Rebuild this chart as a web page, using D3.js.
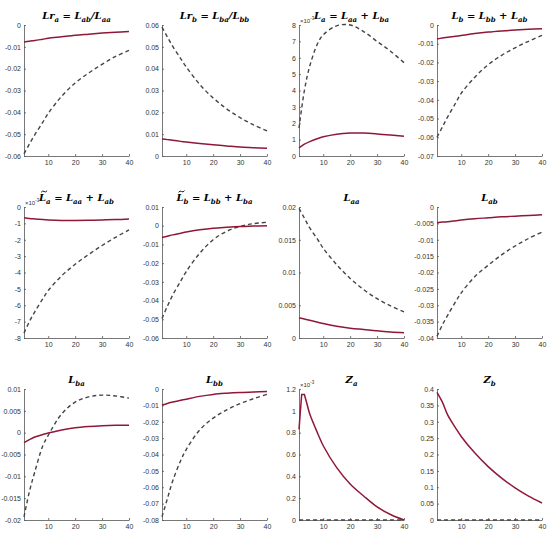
<!DOCTYPE html>
<html>
<head>
<meta charset="utf-8">
<script src="https://cdn.jsdelivr.net/npm/d3@7"></script>
<style>
  body { margin: 0; background: #fff; }
  svg { display: block; }
  .tick text { font-family: "Liberation Sans", Arial, sans-serif; font-size: 7px; fill: #333; }
  .tick line, .domain { stroke: #555; stroke-width: 0.8; }
</style>
</head>
<body>
<div id="root"></div>
<script>
var xs = [1, 3, 5, 8, 10, 15, 20, 25, 30, 35, 40];

// panel titles: [text, isSub]; tilde marks L with a tilde accent
var titles = [
  [["Lr", 0], ["a", 1], [" = L", 0], ["ab", 1], ["/L", 0], ["aa", 1]],
  [["Lr", 0], ["b", 1], [" = L", 0], ["ba", 1], ["/L", 0], ["bb", 1]],
  [["L", 0], ["a", 1], [" = L", 0], ["aa", 1], [" + L", 0], ["ba", 1]],
  [["L", 0], ["b", 1], [" = L", 0], ["bb", 1], [" + L", 0], ["ab", 1]],
  [["L", 0], ["a", 1], [" = L", 0], ["aa", 1], [" + L", 0], ["ab", 1]],
  [["L", 0], ["b", 1], [" = L", 0], ["bb", 1], [" + L", 0], ["ba", 1]],
  [["L", 0], ["aa", 1]],
  [["L", 0], ["ab", 1]],
  [["L", 0], ["ba", 1]],
  [["L", 0], ["bb", 1]],
  [["Z", 0], ["a", 1]],
  [["Z", 0], ["b", 1]]
];
var tilde = [false, false, false, false, true, true, false, false, false, false, false, false];

// y domains and ticks
var yDomains = [
  [-0.06, 0], [0, 0.06], [0, 8], [-0.07, 0],
  [-8, 0], [-0.06, 0.01], [0, 0.02], [-0.04, 0],
  [-0.02, 0.01], [-0.08, 0], [0, 1.2], [0, 0.4]
];
var yTicks = [
  [-0.06, -0.05, -0.04, -0.03, -0.02, -0.01, 0],
  [0, 0.01, 0.02, 0.03, 0.04, 0.05, 0.06],
  [0, 1, 2, 3, 4, 5, 6, 7, 8],
  [-0.07, -0.06, -0.05, -0.04, -0.03, -0.02, -0.01, 0],
  [-8, -7, -6, -5, -4, -3, -2, -1, 0],
  [-0.06, -0.05, -0.04, -0.03, -0.02, -0.01, 0, 0.01],
  [0, 0.005, 0.01, 0.015, 0.02],
  [-0.04, -0.035, -0.03, -0.025, -0.02, -0.015, -0.01, -0.005, 0],
  [-0.02, -0.015, -0.01, -0.005, 0, 0.005, 0.01],
  [-0.08, -0.07, -0.06, -0.05, -0.04, -0.03, -0.02, -0.01, 0],
  [0, 0.2, 0.4, 0.6, 0.8, 1, 1.2],
  [0, 0.05, 0.1, 0.15, 0.2, 0.25, 0.3, 0.35, 0.4]
];
var scaled = [false, false, true, false, true, false, false, false, false, false, true, false]; // x10^-3
var xTicks = [10, 20, 30, 40];

// solid series (values at xs)
var solid = [
  [-0.0078, -0.0074, -0.0071, -0.0065, -0.0061, -0.0054, -0.0047, -0.0042, -0.0037, -0.0033, -0.0030],
  [0.0078, 0.0075, 0.0072, 0.0067, 0.0064, 0.0057, 0.0051, 0.0046, 0.0041, 0.0038, 0.0035],
  [0.50, 0.72, 0.88, 1.07, 1.17, 1.33, 1.40, 1.40, 1.35, 1.28, 1.20],
  [-0.0075, -0.0070, -0.0066, -0.0060, -0.0056, -0.0046, -0.0038, -0.0032, -0.0027, -0.0023, -0.0020],
  [-0.66, -0.70, -0.73, -0.77, -0.79, -0.82, -0.82, -0.81, -0.79, -0.77, -0.74],
  [-0.0063, -0.0056, -0.0049, -0.0040, -0.0034, -0.0022, -0.0013, -0.0008, -0.0004, -0.0002, 0.0000],
  [0.0031, 0.0029, 0.0027, 0.0024, 0.0022, 0.0018, 0.0015, 0.0013, 0.0011, 0.0009, 0.0008],
  [-0.0048, -0.0046, -0.0045, -0.0042, -0.0040, -0.0036, -0.0033, -0.0030, -0.0028, -0.0026, -0.0024],
  [-0.0023, -0.0016, -0.0010, -0.0004, -0.0001, 0.0006, 0.0011, 0.0014, 0.0016, 0.0017, 0.0017],
  [-0.0098, -0.0088, -0.0080, -0.0069, -0.0062, -0.0045, -0.0033, -0.0026, -0.0021, -0.0018, -0.0016],
  [0.83, 1.15, 0.97, 0.79, 0.68, 0.48, 0.33, 0.22, 0.12, 0.05, 0.00],
  [0.390, 0.360, 0.320, 0.280, 0.255, 0.205, 0.163, 0.128, 0.098, 0.073, 0.052]
];
// extra solid points for Z_a peak (x = 2..4)
var zaPeakX = [2, 3, 4];
var zaPeakY = [1.15, 1.15, 1.06];

// dashed series (values at xs)
var dashed = [
  [-0.0590, -0.0545, -0.0503, -0.0445, -0.0405, -0.0326, -0.0266, -0.0220, -0.0180, -0.0144, -0.0116],
  [0.0590, 0.0545, 0.0502, 0.0445, 0.0408, 0.0328, 0.0266, 0.0216, 0.0176, 0.0143, 0.0115],
  [1.7, 4.0, 5.5, 6.9, 7.4, 7.95, 8.0, 7.6, 7.0, 6.4, 5.7],
  [-0.0600, -0.0545, -0.0490, -0.0415, -0.0365, -0.0280, -0.0212, -0.0162, -0.0122, -0.0087, -0.0055],
  [-7.7, -7.0, -6.4, -5.6, -5.1, -4.2, -3.5, -2.9, -2.35, -1.85, -1.4],
  [-0.0496, -0.0430, -0.0370, -0.0295, -0.0245, -0.0147, -0.0075, -0.0030, -0.0004, 0.0011, 0.0018],
  [0.0198, 0.0183, 0.0168, 0.0150, 0.0137, 0.0112, 0.0091, 0.0074, 0.0060, 0.0049, 0.0040],
  [-0.0395, -0.0360, -0.0330, -0.0288, -0.0262, -0.0213, -0.0178, -0.0146, -0.0119, -0.0096, -0.0077],
  [-0.0193, -0.0135, -0.0090, -0.0030, -0.0006, 0.0043, 0.0070, 0.0082, 0.0086, 0.0084, 0.0079],
  [-0.0780, -0.0670, -0.0560, -0.0435, -0.0370, -0.0250, -0.0178, -0.0128, -0.0089, -0.0059, -0.0033],
  [0, 0, 0, 0, 0, 0, 0, 0, 0, 0, 0],
  [0, 0, 0, 0, 0, 0, 0, 0, 0, 0, 0]
];

var w = 550, h = 538;
var colLeft = [24, 162, 299, 437];
var rowTop = [25, 207, 389];
var pw = 105, ph = 131;

var svg = d3.select("#root").append("svg").attr("width", w).attr("height", h);

titles.forEach(function(t, i) {
  var x0 = colLeft[i % 4], y0 = rowTop[Math.floor(i / 4)];
  var g = svg.append("g").attr("transform", "translate(" + x0 + "," + y0 + ")");

  var x = d3.scaleLinear().domain([1, 40]).range([0, pw]);
  var y = d3.scaleLinear().domain(yDomains[i]).range([ph, 0]);

  var fmt = function(d) { return d3.format("~g")(+d.toFixed(4)).replace("\u2212", "-"); };

  g.append("g").attr("transform", "translate(0," + ph + ")")
    .call(d3.axisBottom(x).tickValues(xTicks).tickSize(-2).tickSizeOuter(0).tickPadding(4));
  g.append("g")
    .call(d3.axisLeft(y).tickValues(yTicks[i]).tickSize(-2).tickSizeOuter(0).tickPadding(3).tickFormat(fmt));

  if (scaled[i]) {
    var s = g.append("text").attr("x", 1).attr("y", -2)
      .style("font-family", "Liberation Sans, Arial, sans-serif").style("font-size", "6px").style("fill", "#333");
    s.append("tspan").text("\u00d710");
    s.append("tspan").attr("dy", -3).style("font-size", "4.5px").text("-3");
  }

  var sPts = xs.map(function(v, k) { return [v, solid[i][k]]; });
  var dPts = xs.map(function(v, k) { return [v, dashed[i][k]]; });

  var smooth = d3.line().curve(d3.curveCatmullRom.alpha(0.5))
    .x(function(d) { return x(d[0]); }).y(function(d) { return y(d[1]); });
  var straight = d3.line()
    .x(function(d) { return x(d[0]); }).y(function(d) { return y(d[1]); });

  g.append("path").datum(dPts).attr("d", smooth)
    .attr("fill", "none").attr("stroke", "#444").attr("stroke-width", 1.4).attr("stroke-dasharray", "4,3");

  var sp = g.append("path").attr("fill", "none").attr("stroke", "#8f1838").attr("stroke-width", 1.5);
  if (i === 10) {
    // Z_a: kinked start, then smooth decay
    var head = [sPts[0]].concat(zaPeakX.map(function(v, k) { return [v, zaPeakY[k]]; }));
    var tail = [head[head.length - 1]].concat(sPts.slice(2));
    sp.attr("d", straight(head) + smooth(tail).replace(/^M/, "L"));
  } else {
    sp.datum(sPts).attr("d", smooth);
  }

  var tt = g.append("text").attr("x", pw / 2).attr("y", -6).attr("text-anchor", "middle")
    .style("font-family", "'DejaVu Serif', serif")
    .style("font-style", "italic").style("font-weight", "bold").style("font-size", "10px").style("fill", "#000");
  t.forEach(function(seg, k) {
    var ts = tt.append("tspan").text(seg[0]);
    if (seg[1]) { ts.attr("dy", 2.5).style("font-size", "7px"); }
    else if (k > 0) { ts.attr("dy", -2.5); }
  });
  if (tilde[i]) {
    // tilde accent over the first L
    var r = tt.node().getExtentOfChar(0);
    var cx = r.x + r.width / 2 + 1.5, cy = r.y - 0.5;
    g.append("path")
      .attr("d", "M" + (cx - 3) + "," + (cy + 0.8) + " q1.5,-2 3,-0.8 t3,-0.8")
      .attr("fill", "none").attr("stroke", "#000").attr("stroke-width", 0.9);
  }
});
</script>
</body>
</html>
